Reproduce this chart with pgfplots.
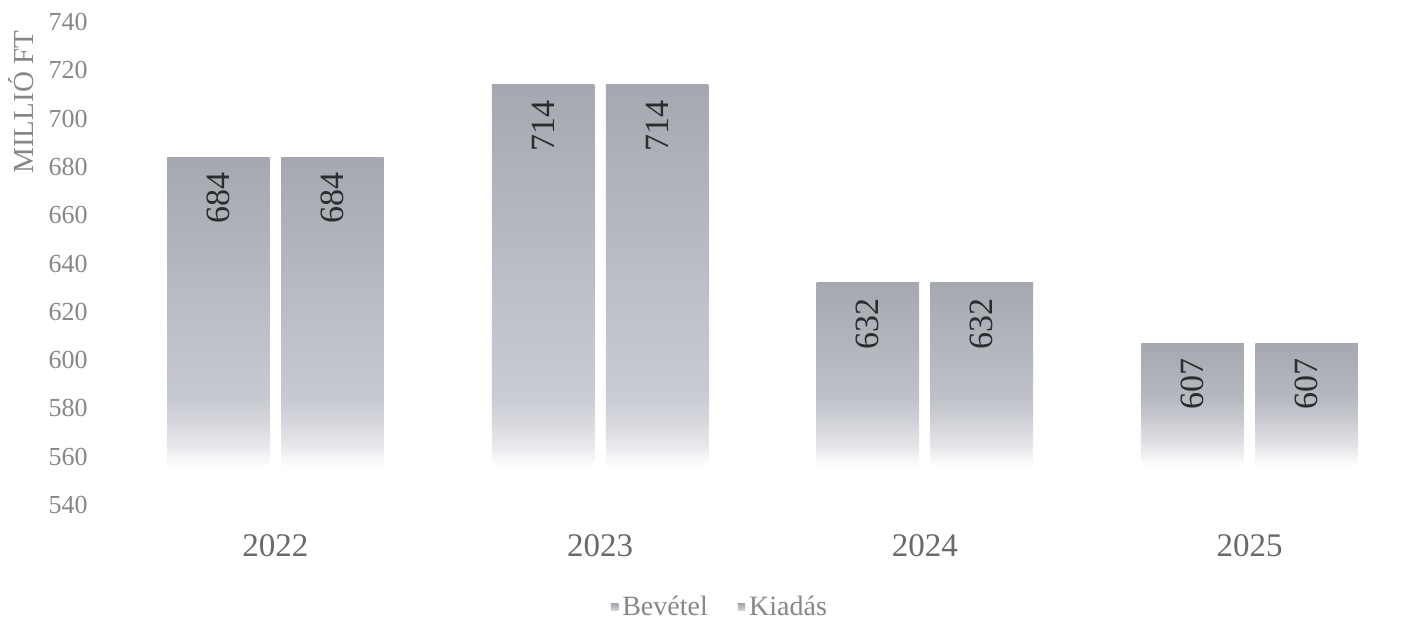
\documentclass[border=0pt]{standalone}
\usepackage{fontspec}
\setmainfont{Liberation Serif}
\usepackage{pgfplots}
\pgfplotsset{compat=1.18}
\usetikzlibrary{fadings}
\definecolor{barc}{RGB}{178,180,188}
\definecolor{bartop}{RGB}{166,168,176}
\definecolor{barbot}{RGB}{214,216,223}
\definecolor{tickc}{RGB}{135,135,135}
\definecolor{yearc}{RGB}{105,105,105}
\definecolor{labc}{RGB}{40,46,46}
\pgfdeclareverticalshading{myfadeshade}{100bp}{color(0bp)=(pgftransparent!0); color(46.7bp)=(pgftransparent!0); color(54.2bp)=(pgftransparent!50); color(62.5bp)=(pgftransparent!80); color(70.8bp)=(pgftransparent!100); color(100bp)=(pgftransparent!100)}
\pgfdeclarefading{myfade}{\pgfuseshading{myfadeshade}}
\pgfplotsset{
  barstyle/.style={draw=none, top color=bartop, bottom color=barbot},
  labstyle/.style={draw=none, fill=none, forget plot, nodes near coords, point meta=rawy,
    every node near coord/.append style={rotate=90, anchor=east, inner xsep=7.5pt, inner ysep=0pt, font=\fontsize{17}{17}\selectfont, text=labc}},
}
\begin{document}
\begin{tikzpicture}
\begin{axis}[
  at={(0,0)}, anchor=south west,
  scale only axis, width=649.5pt, height=241.5pt,
  y coord trafo/.code={\pgfmathparse{#1-540}},
  y coord inv trafo/.code={\pgfmathparse{#1+540}},
  xmin=-0.5, xmax=3.5, ymin=540, ymax=740,
  ybar=6pt, bar width=0.315,
  ytick={540,560,...,740},
  /pgf/number format/assume math mode=true,
  yticklabel style={font=\fontsize{13}{13}\selectfont, text=tickc, inner sep=0pt, anchor=east, xshift=-12.5pt},
  xtick={0,1,2,3}, xticklabels={2022,2023,2024,2025},
  xticklabel style={font=\fontsize{16.5}{16.5}\selectfont, text=yearc, anchor=center, yshift=-20.5pt},
  ylabel={MILLIÓ FT},
  every axis y label/.style={at={(axis description cs:-0.071,0.834)}, rotate=90, anchor=center, font=\fontsize{14.5}{14.5}\selectfont, text=tickc},
  axis line style={draw=none}, major tick length=0pt, tick style={draw=none},
  legend style={at={(axis description cs:0.468,-0.211)}, anchor=center, draw=none, legend columns=2, font=\fontsize{14}{14}\selectfont, text=tickc, /tikz/every even column/.append style={column sep=13pt}},
  legend image code/.code={\fill[barc] (0pt,-2pt) rectangle (3.7pt,1.5pt);},
]
% Bevetel (left) and Kiadas (right), one bar per plot so each bar gets its own shading
\addplot[barstyle, bar shift=-28.5pt] coordinates {(0,684)};
\addlegendentry{Bevétel}
\addplot[barstyle, bar shift=28.5pt] coordinates {(0,684)};
\addlegendentry{Kiadás}
\addplot[barstyle, bar shift=-28.5pt, forget plot] coordinates {(1,714)};
\addplot[barstyle, bar shift=28.5pt, forget plot] coordinates {(1,714)};
\addplot[barstyle, bar shift=-28.5pt, forget plot] coordinates {(2,632)};
\addplot[barstyle, bar shift=28.5pt, forget plot] coordinates {(2,632)};
\addplot[barstyle, bar shift=-28.5pt, forget plot] coordinates {(3,607)};
\addplot[barstyle, bar shift=28.5pt, forget plot] coordinates {(3,607)};
\fill[white, path fading=myfade] (axis cs:-0.5,530) rectangle (axis cs:3.5,590);
\addplot[labstyle, bar shift=-28.5pt] coordinates {(0,684) (1,714) (2,632) (3,607)};
\addplot[labstyle, bar shift=28.5pt] coordinates {(0,684) (1,714) (2,632) (3,607)};
\end{axis}
\pgfresetboundingbox
\path[use as bounding box] (-56.5pt,-59pt) rectangle (651.5pt,252.5pt);
\end{tikzpicture}
\end{document}
